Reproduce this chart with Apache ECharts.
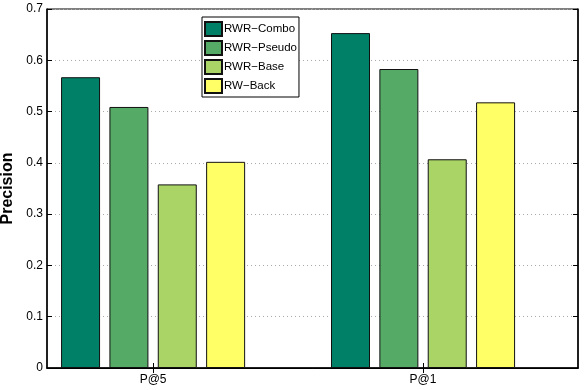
<!DOCTYPE html>
<html>
<head>
<meta charset="utf-8">
<script src="https://cdn.jsdelivr.net/npm/echarts@6/dist/echarts.min.js"></script>
<style>html,body{margin:0;padding:0;background:#fff}#c{width:585px;height:390px}</style>
</head>
<body>
<div id="c"></div>
<script>
const categories = ['P@5', 'P@1'];
const seriesNames = ['RWR\u2212Combo', 'RWR\u2212Pseudo', 'RWR\u2212Base', 'RW\u2212Back'];
const comboValues = [0.567, 0.653];
const pseudoValues = [0.509, 0.583];
const baseValues = [0.358, 0.407];
const backValues = [0.402, 0.518];
const yTicks = [0, 0.1, 0.2, 0.3, 0.4, 0.5, 0.6, 0.7];

const colors = ['#008066', '#55aa66', '#aad466', '#ffff66'];
const allValues = [comboValues, pseudoValues, baseValues, backValues];
const positions = categories.map((c, i) => i + 1);
const font = 'Liberation Sans, Arial, sans-serif';

const chart = echarts.init(document.getElementById('c'), null, {renderer: 'canvas'});
const series = allValues.map((vals, s) => ({
  name: seriesNames[s],
  type: 'bar',
  xAxisIndex: 0,
  yAxisIndex: 0,
  barWidth: 39,
  barGap: '24%',
  data: vals.map((v, i) => [positions[i], v]),
  itemStyle: {color: colors[s], borderColor: '#111', borderWidth: 1},
  emphasis: {disabled: true}
}));

const catFormatter = v => categories[Math.round(v) - 1] || '';

chart.setOption({
  animation: false,
  backgroundColor: '#fff',
  grid: {left: 47, top: 9, right: 7, bottom: 22, outerBoundsMode: 'none', containLabel: false,
    show: true, borderColor: '#000', borderWidth: 1},
  legend: {
    orient: 'vertical',
    left: 202, top: 17,
    backgroundColor: '#fff',
    borderColor: '#000', borderWidth: 1,
    padding: [4, 2, 3, 2],
    itemWidth: 17, itemHeight: 14, itemGap: 3,
    icon: 'rect',
    data: seriesNames,
    textStyle: {fontFamily: font, fontSize: 11.5, color: '#000', padding: [0, 0, 0, -3]}
  },
  xAxis: [{
    type: 'value', min: 0.607, max: 2.574,
    axisLine: {show: true, lineStyle: {color: '#000', width: 1.5}},
    axisTick: {show: true, inside: true, length: 5, customValues: positions, lineStyle: {color: '#000'}},
    axisLabel: {show: true, customValues: positions, formatter: catFormatter, fontFamily: font, fontSize: 12, color: '#000', margin: 6},
    splitLine: {show: false}
  }, {
    type: 'value', min: 0.607, max: 2.574, position: 'top',
    axisLine: {show: true, lineStyle: {color: '#000', width: 1}},
    axisTick: {show: true, inside: true, length: 5, customValues: positions, lineStyle: {color: '#000'}},
    axisLabel: {show: false},
    splitLine: {show: false}
  }],
  yAxis: [{
    type: 'value', min: yTicks[0], max: yTicks[yTicks.length - 1], interval: 0.1,
    name: 'Precision', nameLocation: 'middle', nameGap: 19,
    nameTextStyle: {fontFamily: font, fontSize: 16, fontWeight: 'bold', color: '#000'},
    axisLine: {show: true, lineStyle: {color: '#000', width: 1.5}},
    axisTick: {show: true, inside: true, length: 5, lineStyle: {color: '#000'}},
    axisLabel: {fontFamily: font, fontSize: 12, color: '#000', margin: 4,
      formatter: v => String(Math.round(v * 10) / 10)},
    splitLine: {show: true, lineStyle: {color: '#aaa', type: [1, 3], width: 1}}
  }, {
    type: 'value', min: yTicks[0], max: yTicks[yTicks.length - 1], interval: 0.1, position: 'right',
    axisLine: {show: true, lineStyle: {color: '#000', width: 1.5}},
    axisTick: {show: true, inside: true, length: 5, lineStyle: {color: '#000'}},
    axisLabel: {show: false},
    splitLine: {show: false}
  }],
  series: series
});
</script>
</body>
</html>
